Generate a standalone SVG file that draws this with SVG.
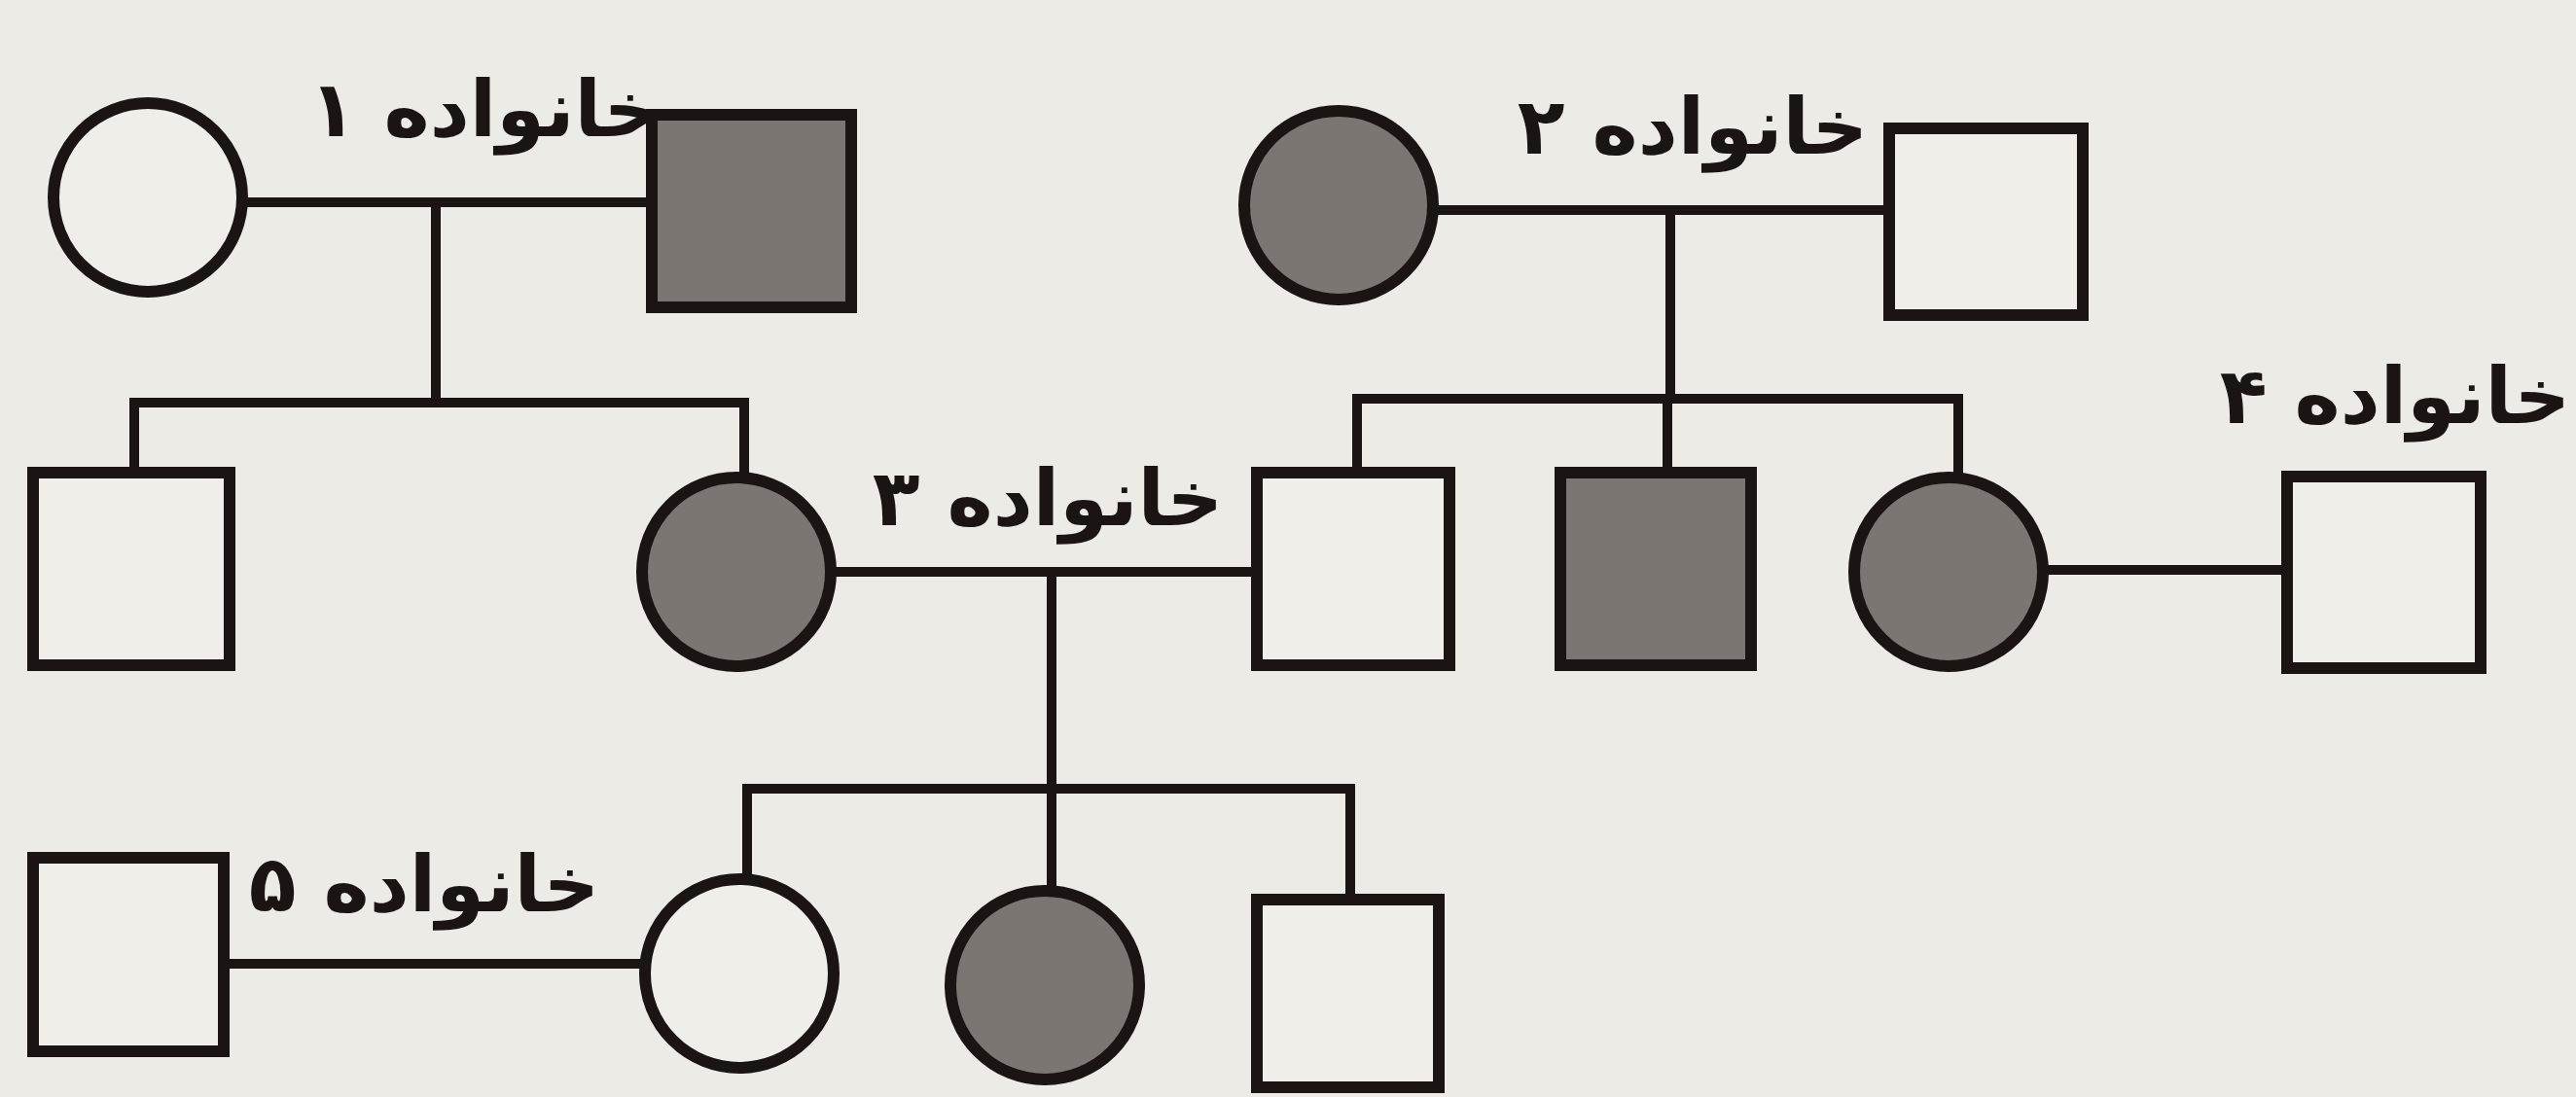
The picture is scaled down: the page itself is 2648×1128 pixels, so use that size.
<svg xmlns="http://www.w3.org/2000/svg" width="2648" height="1128" viewBox="0 0 2648 1128">
<style>
.bg{fill:#ecebe6}
.w{fill:#efeee9;stroke:#1a1512;stroke-width:12}
.f{fill:#7b7672;stroke:#1a1512;stroke-width:12}
.c{stroke:#1a1512;stroke-width:10;fill:none;stroke-linecap:square}
.lbl{font-family:"DejaVu Sans","Noto Sans",sans-serif;font-weight:bold;font-size:80px;fill:#1a1512;text-anchor:middle}
</style>
<rect class="bg" x="0" y="0" width="2648" height="1128"/>
<g id="connectors">
<path class="c" d="M253 208H670M448 208V414M138 414H765M138 414V486M765 414V490"/>
<path class="c" d="M1474 216H1942M1717 216V410M1395 410H2013M1395 410V486M1714 410V486M2013 410V490"/>
<path class="c" d="M855 588H1292M1081 588V811M768 811H1388M768 811V903M1081 811V915M1388 811V925"/>
<path class="c" d="M2101 586H2351"/>
<path class="c" d="M230 991H662"/>
</g>
<g id="n1"><circle class="w" cx="152" cy="203" r="97"/></g>
<g id="n2"><rect class="f" x="670" y="118" width="205" height="198"/></g>
<g id="n3"><circle class="f" cx="1376" cy="211" r="97"/></g>
<g id="n4"><rect class="w" x="1942" y="132" width="199" height="192"/></g>
<g id="n5"><rect class="w" x="34" y="486" width="202" height="198"/></g>
<g id="n6"><circle class="f" cx="757" cy="588" r="97"/></g>
<g id="n7"><rect class="w" x="1292" y="486" width="198" height="198"/></g>
<g id="n8"><rect class="f" x="1604" y="486" width="196" height="198"/></g>
<g id="n9"><circle class="f" cx="2003" cy="588" r="97"/></g>
<g id="n10"><rect class="w" x="2351" y="490" width="199" height="197"/></g>
<g id="n11"><rect class="w" x="34" y="882" width="196" height="199"/></g>
<g id="n12"><circle class="w" cx="760" cy="1001" r="97"/></g>
<g id="n13"><circle class="f" cx="1074" cy="1013" r="97"/></g>
<g id="n14"><rect class="w" x="1292" y="925" width="187" height="193"/></g>
<g id="labels">
<text class="lbl" x="498" y="140">خانواده ۱</text>
<text class="lbl" x="1740" y="158">خانواده ۲</text>
<text class="lbl" x="1077" y="540">خانواده ۳</text>
<text class="lbl" x="2462" y="435">خانواده ۴</text>
<text class="lbl" x="436" y="937">خانواده ۵</text>
</g>
</svg>
